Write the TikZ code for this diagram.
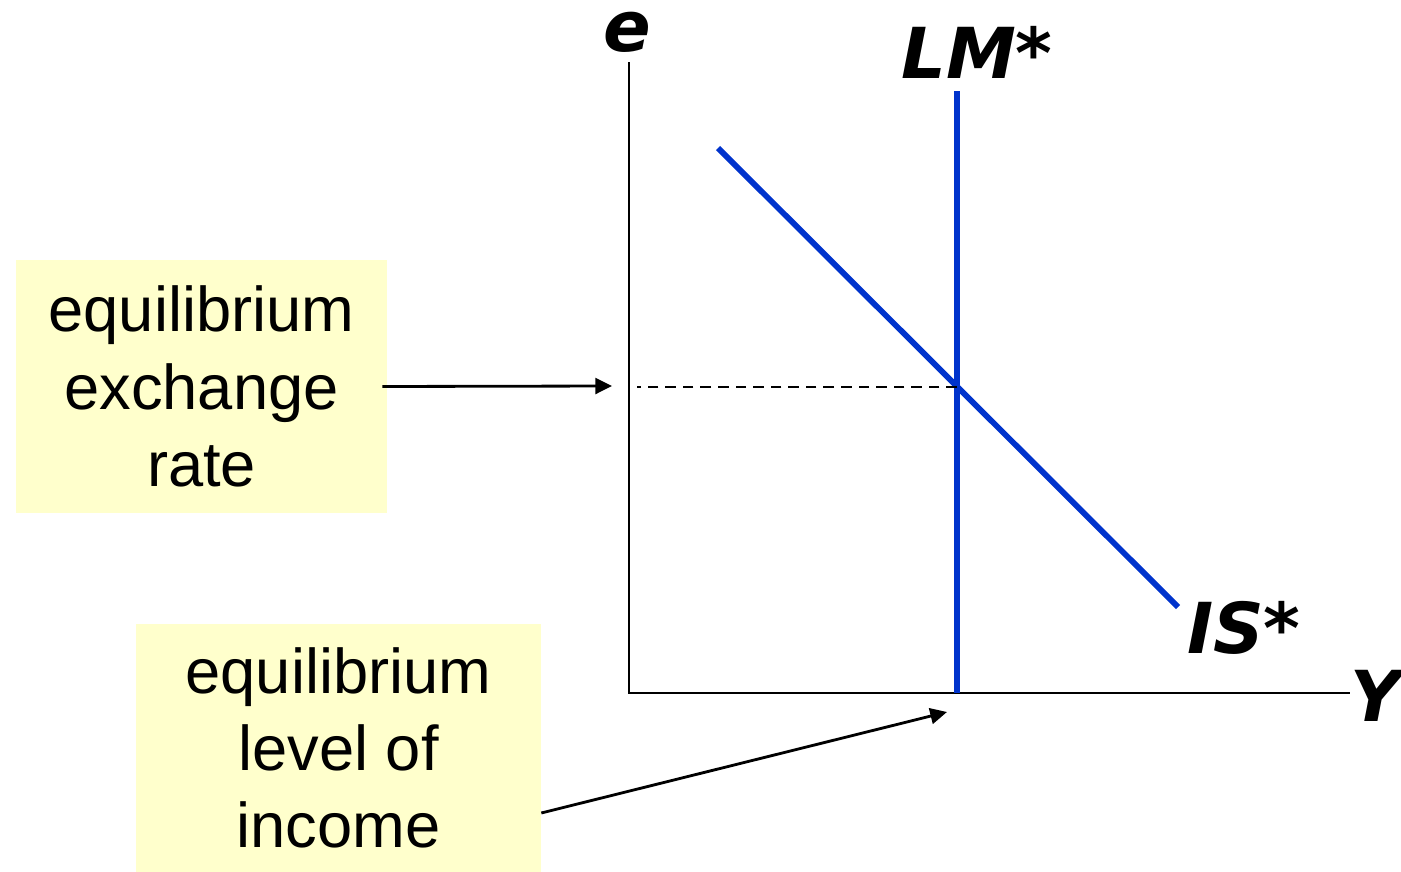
\documentclass[tikz,border=0pt]{standalone}
\usepackage{fontspec}
\setmainfont{Liberation Sans}
\newfontfamily\axisfont{DejaVu Sans}
\usetikzlibrary{arrows.meta, positioning, calc}
\definecolor{curveBlue}{HTML}{0033CC}
\definecolor{noteYellow}{HTML}{FFFFCC}

\begin{document}
\begin{tikzpicture}[x=0.02cm, y=-0.02cm,
    notebox/.style={fill=noteYellow, align=center, inner sep=0pt,
      font=\fontsize{36}{44}\selectfont},
    axislabel/.style={font=\axisfont\bfseries\itshape\fontsize{40}{44}\selectfont, inner sep=0pt},
    curve/.style={curveBlue, line width=3.3pt},
    pointer/.style={line width=1.6pt, -{Triangle[length=9.5pt, width=9pt]}}]
    \useasboundingbox (0,0) rectangle (1401,872);

    % axes
    \coordinate (O) at (629,693);
    \coordinate (eTop) at (629,62);
    \coordinate (YEnd) at (1350,693);
    \draw[line width=1.6pt] (eTop) -- (O) -- (YEnd);
    \node[axislabel] (eLab) at (627,32) {e};
    \node[axislabel] (YLab) at (1376,696) {Y};

    % curves
    \coordinate (lmTop) at (957,91);
    \coordinate (lmBot) at (957,693);
    \coordinate (isTop) at (718,148);
    \coordinate (isBot) at (1178,607);
    \coordinate (eq) at (957,387);
    \draw[curve] (lmTop) -- (lmBot);
    \draw[curve] (isTop) -- (isBot);
    \node[axislabel] (lmLab) at (977,52) {LM*};
    \node[axislabel] (isLab) at (1244,628) {IS*};
    \draw[dashed, line width=0.8pt, dash pattern=on 6pt off 4pt] (eq) -- (637,387);

    % notes
    \node[notebox, minimum width=7.42cm, minimum height=5.06cm] (eqRate) at (201.5,386.5)
      {equilibrium\\exchange\\rate};
    \node[notebox, minimum width=8.1cm, minimum height=4.96cm] (eqIncome) at (338.5,748)
      {equilibrium\\level of\\income};
    \coordinate (rateTip) at (612,386);
    \coordinate (incomeTip) at (947,712);
    \draw[pointer] ([xshift=-0.1cm]eqRate.east) -- (rateTip);
    \draw[pointer] ([yshift=-1.3cm]eqIncome.east) -- (incomeTip);
\end{tikzpicture}
\end{document}
